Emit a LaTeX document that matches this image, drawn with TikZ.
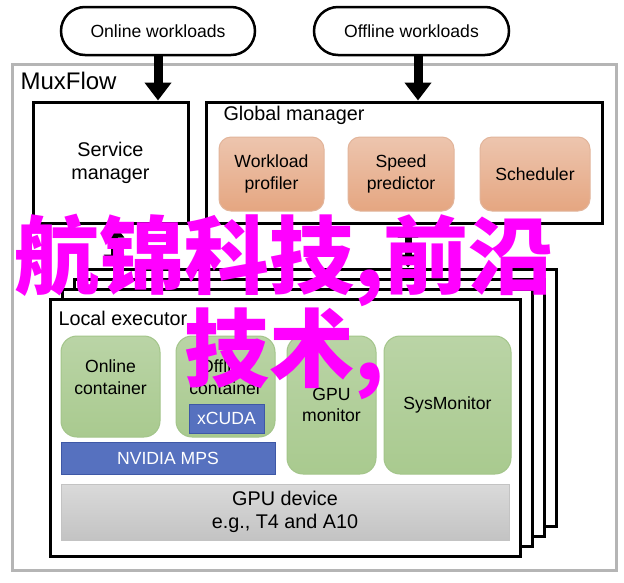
\documentclass[tikz,border=0pt]{standalone}
\usepackage{fontspec}
\setmainfont{Liberation Sans}
\newfontfamily\cjkfont{Noto Sans CJK SC}
\usepackage{tikz}
\usetikzlibrary{
  arrows.meta,
  positioning
}
\definecolor{orangetop}{HTML}{EDC5AE}
\definecolor{orangebot}{HTML}{E5A681}
\definecolor{orangeline}{HTML}{E2B59B}
\definecolor{greentop}{HTML}{BAD4A6}
\definecolor{greenbot}{HTML}{A9CA8F}
\definecolor{greenline}{HTML}{A3C58A}
\definecolor{mpsblue}{HTML}{5671BF}
\definecolor{mpsline}{HTML}{3E58A6}
\definecolor{devtop}{HTML}{DADADA}
\definecolor{devbot}{HTML}{C3C3C3}
\definecolor{outergray}{HTML}{B5B5B5}
\definecolor{wmpink}{HTML}{FF00FF}
\newcommand\txtbig{\fontsize{19.8}{23}\selectfont}
\newcommand\txtsmall{\fontsize{17.6}{21.5}\selectfont}
\tikzset{
  pill/.style={draw, line width=2.5pt, rounded corners=24pt, minimum height=48pt,
    font=\txtsmall},
  mainbox/.style={draw, line width=3pt, fill=white, align=center, font=\txtbig},
  execbox/.style={draw, line width=3pt, fill=white, minimum width=470pt,
    minimum height=257pt},
  outerbox/.style={draw=outergray, line width=3pt},
  orangebox/.style={rounded corners=12pt, draw=orangeline, line width=1pt,
    top color=orangetop, bottom color=orangebot, align=center, font=\txtsmall,
    minimum height=74pt},
  greenbox/.style={rounded corners=16pt, draw=greenline, line width=1pt,
    top color=greentop, bottom color=greenbot, align=center, font=\txtsmall},
  bluebox/.style={fill=mpsblue, draw=mpsline, line width=1pt, text=white,
    font=\txtsmall},
  devbox/.style={top color=devtop, bottom color=devbot, draw=devbot,
    line width=1pt, align=center, font=\txtbig},
  plain/.style={align=center, font=\txtsmall},
  bigarrow/.style={line width=9pt, -{Triangle[width=26pt,length=18pt]}},
  dblarrow/.style={line width=7pt,
    {Triangle[width=20pt,length=13pt]}-{Triangle[width=20pt,length=13pt]}},
  watermark/.style={text=wmpink, align=center,
    font=\cjkfont\bfseries\fontsize{85}{87}\selectfont}
}

\begin{document}
\begin{tikzpicture}[x=1pt, y=-1pt]
  \useasboundingbox (0,0) rectangle (624,582);

  \node[outerbox, anchor=north west, minimum width=604pt, minimum height=506pt]
    (muxflow) at (11,63) {};
  \node[anchor=west, font=\fontsize{24}{28}\selectfont] (muxlabel) at (17,81) {MuxFlow};

  \node[pill, minimum width=194pt] (online) at (158,31) {Online workloads};
  \node[pill, minimum width=195pt] (offline) at (411.5,31) {Offline workloads};

  \node[mainbox, minimum width=155pt, minimum height=121pt] (svc) at (110.5,162.5)
    {Service\\manager};
  \node[mainbox, minimum width=396pt, minimum height=121pt] (gm) at (404,162.5) {};
  \node[anchor=west, font=\txtbig] (gmlabel) at (220,115) {Global manager};

  \node[orangebox, minimum width=105pt] (profiler) at (271.5,174) {Workload\\profiler};
  \node[orangebox, minimum width=106pt] (predictor) at (401,174) {Speed\\predictor};
  \node[orangebox, minimum width=110pt] (scheduler) at (535,174) {Scheduler};

  \draw[bigarrow] (online.south) -- (online.south |- svc.north);
  \draw[bigarrow] ([xshift=6.5pt]offline.south) -- ([xshift=6.5pt]offline.south |- gm.north);

  % stacked local executors
  \foreach \i in {3,2,1}
    \node[execbox] (exec\i) at ({285+12*\i},{427.5-10*\i}) {};
  \node[execbox] (exec) at (285,427.5) {};
  \node[anchor=west, font=\txtbig] (execlabel) at (55,318) {Local executor};

  \draw[dblarrow] ([xshift=3.5pt]svc.south) -- ([xshift=3.5pt]svc.south |- exec3.north);
  \draw[dblarrow] ([xshift=4pt]gm.south) -- ([xshift=4pt]gm.south |- exec3.north);

  \node[greenbox, minimum width=99pt, minimum height=101pt] (onc) at (110.5,386.5) {};
  \node[plain] (onctxt) at (110.5,377) {Online\\container};
  \node[greenbox, minimum width=99pt, minimum height=101pt] (offc) at (225.5,386.5) {};
  \node[plain] (offctxt) at (225.5,377) {Offline\\container};
  \node[bluebox, minimum width=75pt, minimum height=29pt] (xcuda) at (226.5,418.5) {xCUDA};
  \node[greenbox, minimum width=89pt, minimum height=138pt] (gpumon) at (331.5,405)
    {GPU\\monitor};
  \node[greenbox, minimum width=127pt, minimum height=138pt] (sysmon) at (447.5,405)
    {SysMonitor};
  \node[bluebox, minimum width=214pt, minimum height=32pt] (mps) at (168,458) {NVIDIA MPS};
  \node[devbox, minimum width=448pt, minimum height=56pt] (gpudev) at (285,512)
    {GPU device\\e.g., T4 and A10};

  \node[watermark] (wm) at (284,307) {航锦科技,前沿\\技术,};
\end{tikzpicture}
\end{document}
